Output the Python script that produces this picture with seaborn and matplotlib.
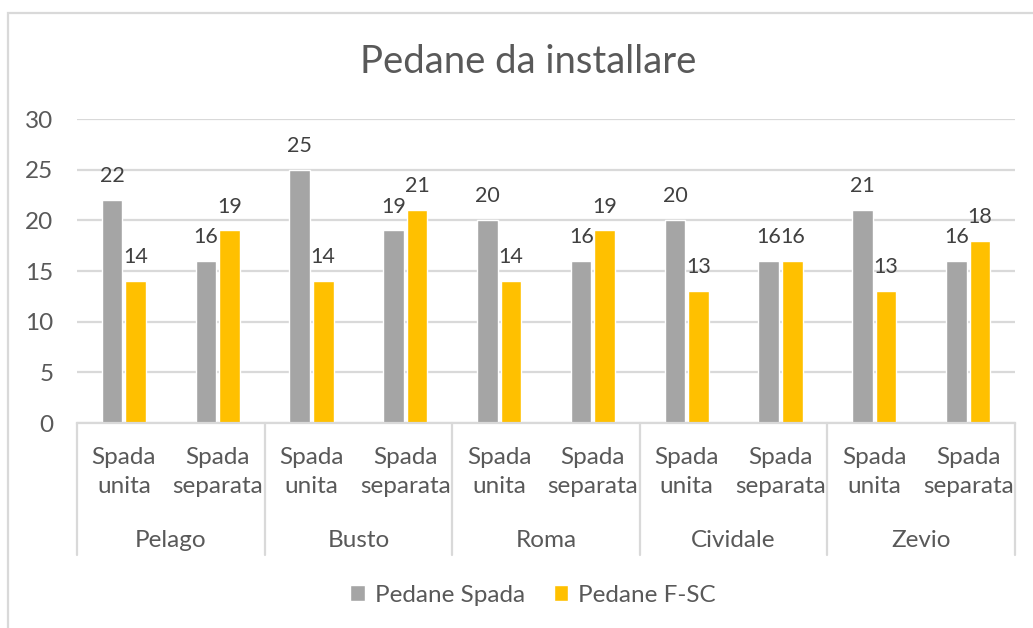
import matplotlib.pyplot as plt
import seaborn as sns
import pandas as pd
from matplotlib.patches import Patch, Rectangle
from matplotlib.lines import Line2D

sns.set_theme(style="white")
plt.rcParams['font.family'] = ['Lato', 'DejaVu Sans']

# data
cities = ["Pelago", "Busto", "Roma", "Cividale", "Zevio"]
tipi = ["Spada\nunita", "Spada\nseparata"]
pedane_spada = [22, 16, 25, 19, 20, 16, 20, 16, 21, 16]
pedane_fsc = [14, 19, 14, 21, 14, 19, 13, 16, 13, 18]
series = ["Pedane Spada", "Pedane F-SC"]
colors = ["#A5A5A5", "#FFC000"]

TXT = "#595959"
FS = 17.5

keys = [f"{c}|{t}" for c in cities for t in tipi]
df = pd.DataFrame({
    "pos": keys * 2,
    "valore": pedane_spada + pedane_fsc,
    "serie": [series[0]] * len(keys) + [series[1]] * len(keys),
})

fig = plt.figure(figsize=(10.33, 6.28), dpi=100)
ax = fig.add_axes([77 / 1033, 205 / 628, 938 / 1033, 304 / 628])

sns.barplot(data=df, x="pos", y="valore", hue="serie", order=keys,
            hue_order=series, palette=colors, width=0.5, gap=0.12,
            errorbar=None, legend=False, saturation=1, ax=ax)

# value labels (a bit smaller so "16" and "16" only touch)
for cont in ax.containers:
    ax.bar_label(cont, padding=10, fontsize=15.5, color="#404040")

ax.set_ylim(0, 30)
ax.set_xlim(-0.5, len(keys) - 0.5)
ax.set_yticks(range(0, 31, 5))
ax.yaxis.grid(True, color="#D9D9D9", lw=1.6)
ax.set_axisbelow(True)
for s in ["left", "right", "top"]:
    ax.spines[s].set_visible(False)
ax.spines["bottom"].set_color("#D9D9D9")
ax.spines["bottom"].set_linewidth(1.6)
ax.set_xlabel("")
ax.set_ylabel("")

ax.set_xticks(range(len(keys)))
ax.set_xticklabels(tipi * len(cities), linespacing=1.5)
ax.tick_params(axis="x", length=0, pad=17, labelsize=FS, labelcolor=TXT)
ax.tick_params(axis="y", length=0, pad=17, labelsize=FS, labelcolor=TXT)

# group labels and separators
n = len(tipi)
for i, c in enumerate(cities):
    ax.text(i * n + (n - 1) / 2, -0.385, c, transform=ax.get_xaxis_transform(),
            ha="center", va="center", fontsize=FS, color=TXT)
for i in range(len(cities) + 1):
    ax.add_line(Line2D([i * n - 0.5] * 2, [0, -0.434], transform=ax.get_xaxis_transform(),
                       color="#D9D9D9", lw=1.6, clip_on=False))

fig.text(528 / 1033, 1 - 62 / 628, "Pedane da installare", ha="center", va="center",
         fontsize=27.5, color=TXT)

handles = [Patch(facecolor=col, label=s) for s, col in zip(series, colors)]
fig.legend(handles=handles, loc="center", bbox_to_anchor=(533 / 1033, 1 - 595 / 628),
           ncol=2, frameon=False, fontsize=FS, handlelength=0.6, handleheight=0.6,
           handletextpad=0.4, columnspacing=1.2, labelcolor=TXT)

# chart frame
fig.patches.append(Rectangle((8 / 1033, -0.1), 1.1, 1 - 13 / 628 + 0.1,
                             transform=fig.transFigure, fill=False,
                             edgecolor="#D9D9D9", lw=1.6))

fig.savefig("out.png", dpi=100, facecolor="white")
